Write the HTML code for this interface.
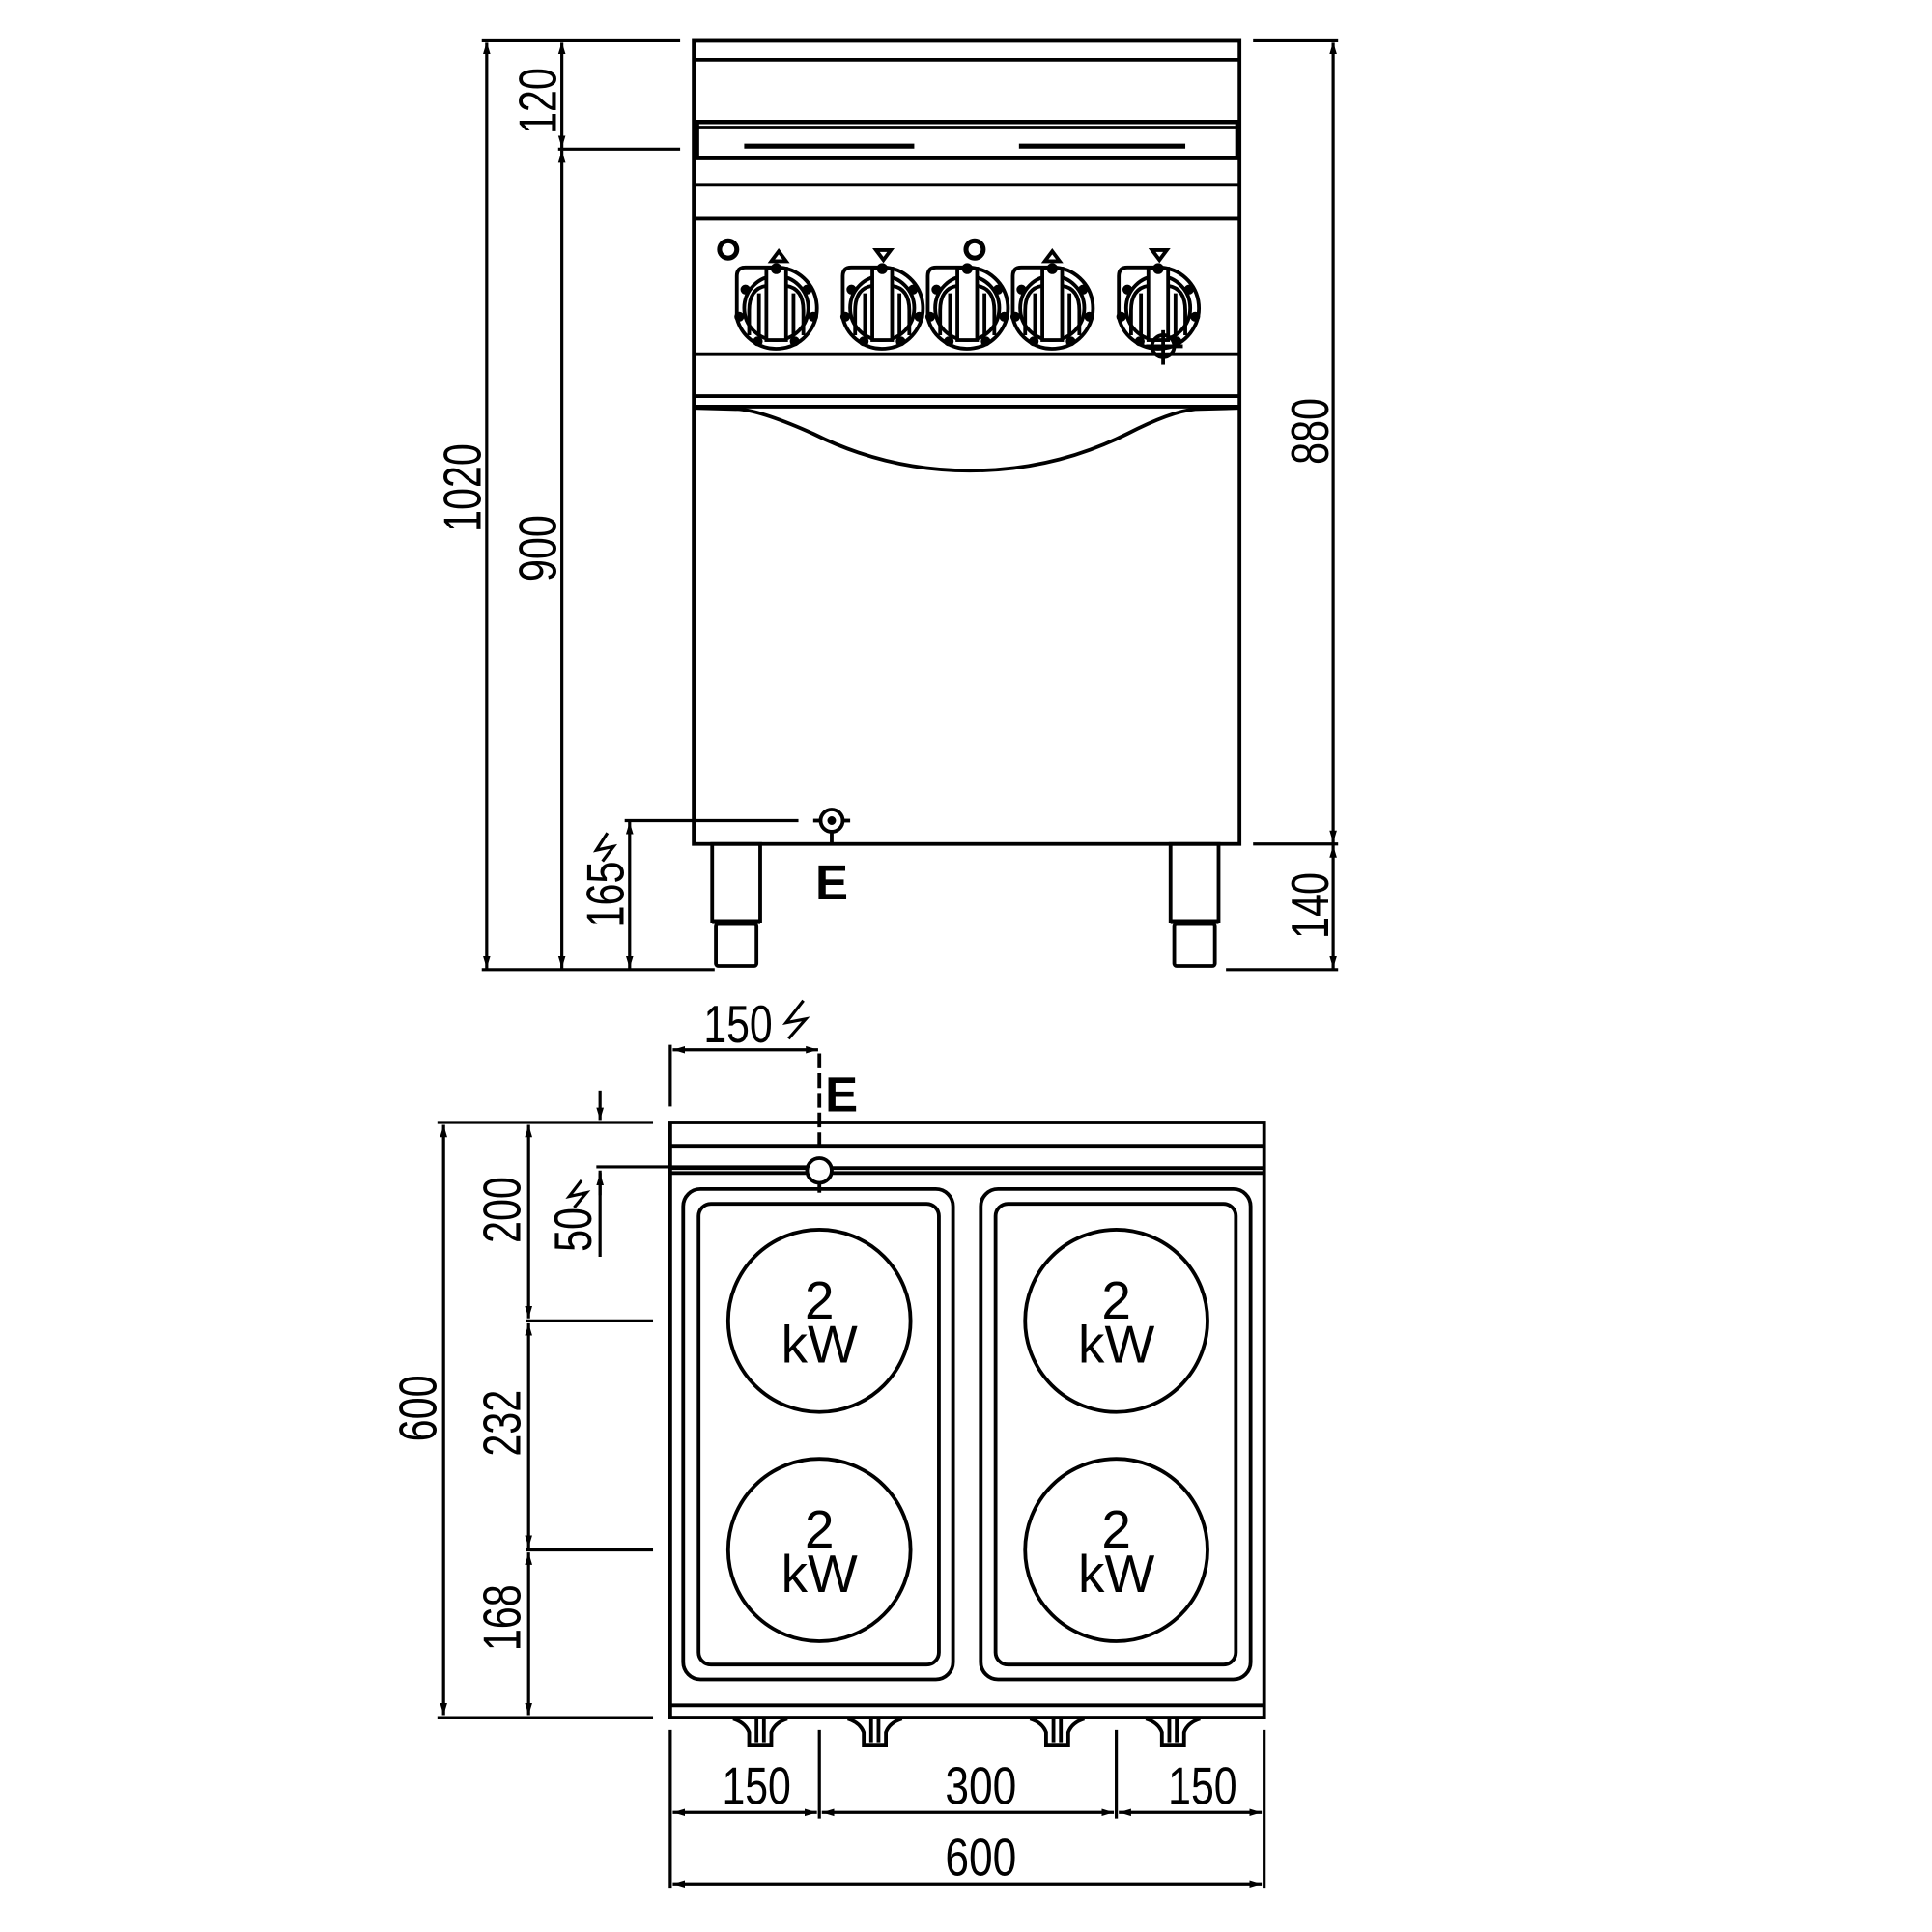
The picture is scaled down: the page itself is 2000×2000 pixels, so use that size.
<!DOCTYPE html>
<html><head><meta charset="utf-8"><style>
html,body{margin:0;padding:0;background:#fff;}
svg{display:block;}
text{font-family:"Liberation Sans",sans-serif;fill:#000;}
</style></head><body>
<svg width="2000" height="2000" viewBox="0 0 1568 1568" xmlns="http://www.w3.org/2000/svg">
<defs>
<marker id="a" viewBox="0 0 10 10" refX="10" refY="5" markerWidth="10" markerHeight="10" orient="auto-start-reverse" markerUnits="userSpaceOnUse"><path d="M0,2 L10,5 L0,8 z" fill="#000"/></marker>
<g id="knob" fill="none" stroke="#000" stroke-width="3">
<path d="M-32,-5 L-32,-26 Q-32,-33 -25,-33 L0,-33 A33,33 0 1 1 -32,8 Z"/>
<circle r="26"/>
<rect x="-8" y="-32" width="16" height="58" fill="#fff"/>
<path d="M-8,-18 Q-22,-16 -22,2 L-22,22 M8,-18 Q22,-16 22,2 L22,22 M-14,-12 L-14,22 M14,-12 L14,22"/>
<circle cx="0" cy="-32" r="3" fill="#000"/>
<circle cx="-25" cy="-15" r="2.5" fill="#000"/><circle cx="25" cy="-15" r="2.5" fill="#000"/>
<circle cx="-30" cy="7" r="2.5" fill="#000"/><circle cx="30" cy="7" r="2.5" fill="#000"/>
<circle cx="-15" cy="27" r="2.5" fill="#000"/><circle cx="15" cy="27" r="2.5" fill="#000"/>
</g>
<g id="foot" fill="none" stroke="#000" stroke-width="3">
<path d="M-22,1 Q-12,4 -9,12 L-9,22 L9,22 L9,12 Q12,4 22,1"/>
<path d="M-3,1 L-3,20 M3,1 L3,20"/>
</g>
<g id="burn">
<circle r="74" fill="none" stroke="#000" stroke-width="3"/>
<text x="0" y="-2" font-size="43" text-anchor="middle">2</text>
<text x="0" y="34" font-size="43" text-anchor="middle">kW</text>
</g>
</defs>

<g stroke="#000" fill="none" stroke-width="3">
<rect x="563" y="32.5" width="443" height="652.5"/>
<line x1="563" y1="48.5" x2="1006" y2="48.5"/>
<line x1="563" y1="99" x2="1006" y2="99" stroke-width="3.5"/>
<line x1="566" y1="103.5" x2="1004" y2="103.5"/>
<line x1="566" y1="99" x2="566" y2="128"/><line x1="1004" y1="99" x2="1004" y2="128"/>
<line x1="604" y1="118.5" x2="742" y2="118.5" stroke-width="4"/>
<line x1="827" y1="118.5" x2="962" y2="118.5" stroke-width="4"/>
<line x1="563" y1="128.5" x2="1006" y2="128.5"/>
<line x1="563" y1="150" x2="1006" y2="150"/>
<line x1="563" y1="177.5" x2="1006" y2="177.5"/>
<line x1="563" y1="287.5" x2="1006" y2="287.5"/>
<line x1="563" y1="321.5" x2="1006" y2="321.5"/>
<line x1="563" y1="330" x2="1006" y2="330"/>
<path d="M563,331 L600,332 Q620,334 660,352 Q720,382 787,382 Q855,382 915,352 Q950,334 970,332 L1006,331"/>
<circle cx="591" cy="202.5" r="7" stroke-width="4"/><circle cx="791" cy="202.5" r="7" stroke-width="4"/>
<path d="M626,212 L632,204 L638,212 Z"/><path d="M711,203 L717,211 L723,203 Z"/>
<path d="M848,212 L854,204 L860,212 Z"/><path d="M935,203 L941,211 L947,203 Z"/>
</g>
<use href="#knob" x="630" y="250"/>
<use href="#knob" x="716" y="250"/>
<use href="#knob" x="785" y="250"/>
<use href="#knob" x="854" y="250"/>
<use href="#knob" x="940" y="250"/>
<g stroke="#000" fill="none" stroke-width="3">
<circle cx="944" cy="281" r="9"/><line x1="944" y1="268" x2="944" y2="296"/><line x1="930" y1="281" x2="960" y2="281"/>
<rect x="578" y="685" width="39" height="63"/>
<rect x="581" y="750" width="33" height="34" rx="2"/>
<line x1="578" y1="748" x2="617" y2="748" stroke-width="4"/>
<rect x="950" y="685" width="39" height="63"/>
<rect x="953" y="750" width="33" height="34" rx="2"/>
<line x1="950" y1="748" x2="989" y2="748" stroke-width="4"/>
<circle cx="675" cy="666" r="9"/><circle cx="675" cy="666" r="2" fill="#000"/>
<line x1="660" y1="666" x2="665" y2="666"/><line x1="685" y1="666" x2="690" y2="666"/>
<line x1="675" y1="675" x2="675" y2="685"/>
<line x1="507" y1="666" x2="648" y2="666" stroke-width="2.5"/>
</g>
<g stroke="#000" fill="none" stroke-width="2.5">
<line x1="391" y1="32.5" x2="552" y2="32.5"/>
<line x1="453" y1="121" x2="552" y2="121"/>
<line x1="391" y1="787" x2="580" y2="787"/>
<line x1="395" y1="34" x2="395" y2="786" marker-start="url(#a)" marker-end="url(#a)"/>
<line x1="456" y1="34" x2="456" y2="120" marker-start="url(#a)" marker-end="url(#a)"/>
<line x1="456" y1="122" x2="456" y2="786" marker-start="url(#a)" marker-end="url(#a)"/>
<line x1="511" y1="667" x2="511" y2="786" marker-start="url(#a)" marker-end="url(#a)"/>
<line x1="1017" y1="32.5" x2="1086" y2="32.5"/>
<line x1="1017" y1="685" x2="1086" y2="685"/>
<line x1="995" y1="787" x2="1086" y2="787"/>
<line x1="1082" y1="34" x2="1082" y2="684" marker-start="url(#a)" marker-end="url(#a)"/>
<line x1="1082" y1="686" x2="1082" y2="786" marker-start="url(#a)" marker-end="url(#a)"/>
<path d="M493,676 L484,690 L498,687 L489,699"/>
</g>
<text font-size="43" textLength="54" lengthAdjust="spacingAndGlyphs" transform="translate(451,82) rotate(-90)" text-anchor="middle">120</text>
<text font-size="43" textLength="72" lengthAdjust="spacingAndGlyphs" transform="translate(390,396) rotate(-90)" text-anchor="middle">1020</text>
<text font-size="43" textLength="54" lengthAdjust="spacingAndGlyphs" transform="translate(451,445) rotate(-90)" text-anchor="middle">900</text>
<text font-size="43" textLength="54" lengthAdjust="spacingAndGlyphs" transform="translate(506,726) rotate(-90)" text-anchor="middle">165</text>
<text font-size="43" textLength="54" lengthAdjust="spacingAndGlyphs" transform="translate(1078,350) rotate(-90)" text-anchor="middle">880</text>
<text font-size="43" textLength="54" lengthAdjust="spacingAndGlyphs" transform="translate(1078,735) rotate(-90)" text-anchor="middle">140</text>
<text x="675" y="730" font-size="40" font-weight="bold" text-anchor="middle">E</text>

<g stroke="#000" fill="none" stroke-width="3">
<rect x="544" y="911" width="482" height="483"/>
<line x1="544" y1="930" x2="1026" y2="930"/>
<line x1="544" y1="948" x2="1026" y2="948"/>
<line x1="544" y1="952" x2="1026" y2="952"/>
<line x1="544" y1="1384" x2="1026" y2="1384"/>
<rect x="554.5" y="965" width="219" height="398" rx="14"/>
<rect x="567" y="977" width="195" height="374" rx="10"/>
<rect x="796" y="965" width="219" height="398" rx="14"/>
<rect x="808" y="977" width="195" height="374" rx="10"/>
<circle cx="665" cy="950" r="10" fill="#fff"/>
<line x1="665" y1="855" x2="665" y2="935" stroke-dasharray="12,4"/>
<line x1="665" y1="961" x2="665" y2="968"/>
</g>
<g stroke="#000" fill="none" stroke-width="2.5">
<line x1="544" y1="848" x2="544" y2="898"/>
<line x1="546" y1="852" x2="664" y2="852" marker-start="url(#a)" marker-end="url(#a)"/>
<path d="M652,812 L638,830 L654,827 L640,843"/>
<line x1="487" y1="885" x2="487" y2="909" marker-end="url(#a)"/>
<line x1="487" y1="950" x2="487" y2="1020"/>
<line x1="487" y1="970" x2="487" y2="952" marker-end="url(#a)"/>
<line x1="484" y1="947" x2="655" y2="947"/>
<path d="M472,958 L462,971 L476,968 L466,980"/>
<line x1="355" y1="911" x2="530" y2="911"/>
<line x1="427" y1="1072" x2="530" y2="1072"/>
<line x1="427" y1="1258" x2="530" y2="1258"/>
<line x1="355" y1="1394" x2="530" y2="1394"/>
<line x1="360" y1="913" x2="360" y2="1392" marker-start="url(#a)" marker-end="url(#a)"/>
<line x1="429" y1="913" x2="429" y2="1070" marker-start="url(#a)" marker-end="url(#a)"/>
<line x1="429" y1="1074" x2="429" y2="1256" marker-start="url(#a)" marker-end="url(#a)"/>
<line x1="429" y1="1260" x2="429" y2="1392" marker-start="url(#a)" marker-end="url(#a)"/>
<line x1="544" y1="1404" x2="544" y2="1532"/>
<line x1="1026" y1="1404" x2="1026" y2="1532"/>
<line x1="665" y1="1404" x2="665" y2="1476"/>
<line x1="906" y1="1404" x2="906" y2="1476"/>
<line x1="546" y1="1471" x2="663" y2="1471" marker-start="url(#a)" marker-end="url(#a)"/>
<line x1="667" y1="1471" x2="904" y2="1471" marker-start="url(#a)" marker-end="url(#a)"/>
<line x1="908" y1="1471" x2="1024" y2="1471" marker-start="url(#a)" marker-end="url(#a)"/>
<line x1="546" y1="1529" x2="1024" y2="1529" marker-start="url(#a)" marker-end="url(#a)"/>
</g>
<use href="#foot" x="617" y="1394"/>
<use href="#foot" x="710" y="1394"/>
<use href="#foot" x="858" y="1394"/>
<use href="#foot" x="952" y="1394"/>
<use href="#burn" x="665" y="1072"/>
<use href="#burn" x="665" y="1258"/>
<use href="#burn" x="906" y="1072"/>
<use href="#burn" x="906" y="1258"/>
<text x="683" y="902" font-size="40" font-weight="bold" text-anchor="middle">E</text>
<text x="599" y="846" font-size="43" textLength="56" lengthAdjust="spacingAndGlyphs" text-anchor="middle">150</text>
<text font-size="43" textLength="36" lengthAdjust="spacingAndGlyphs" transform="translate(480,998) rotate(-90)" text-anchor="middle">50</text>
<text font-size="43" textLength="54" lengthAdjust="spacingAndGlyphs" transform="translate(422,982) rotate(-90)" text-anchor="middle">200</text>
<text font-size="43" textLength="54" lengthAdjust="spacingAndGlyphs" transform="translate(422,1155) rotate(-90)" text-anchor="middle">232</text>
<text font-size="43" textLength="54" lengthAdjust="spacingAndGlyphs" transform="translate(422,1313) rotate(-90)" text-anchor="middle">168</text>
<text font-size="43" textLength="54" lengthAdjust="spacingAndGlyphs" transform="translate(354,1143) rotate(-90)" text-anchor="middle">600</text>
<text x="614" y="1464" font-size="43" textLength="56" lengthAdjust="spacingAndGlyphs" text-anchor="middle">150</text>
<text x="796" y="1464" font-size="43" textLength="58" lengthAdjust="spacingAndGlyphs" text-anchor="middle">300</text>
<text x="976" y="1464" font-size="43" textLength="56" lengthAdjust="spacingAndGlyphs" text-anchor="middle">150</text>
<text x="796" y="1522" font-size="43" textLength="58" lengthAdjust="spacingAndGlyphs" text-anchor="middle">600</text>
</svg>
</body></html>
